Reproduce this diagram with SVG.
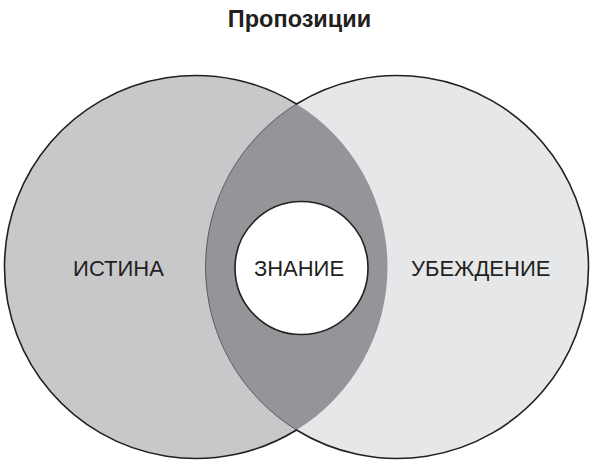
<svg xmlns="http://www.w3.org/2000/svg" width="594" height="465" viewBox="0 0 594 465">
<style>
.lbl{font-family:"Liberation Sans",Arial,sans-serif;font-size:22px;fill:#231f20;text-anchor:middle}
.ttl{font-family:"Liberation Sans",Arial,sans-serif;font-size:23.5px;font-weight:bold;fill:#231f20;text-anchor:middle}
.edge{fill:none;stroke:#231f20;stroke-width:1.6}
.thin{fill:none;stroke:#231f20;stroke-width:0.6}
</style>
<rect width="594" height="465" fill="#ffffff"/>
<text class="ttl" x="299.5" y="27">Пропозиции</text>
<g id="truth">
<circle cx="196" cy="267" r="191.5" fill="#c7c8ca"/>
</g>
<g id="belief">
<circle cx="397" cy="267" r="191.5" fill="#e6e7e8"/>
</g>
<g id="overlap">
<path d="M296.5,104 A191.5,191.5 0 0 1 296.5,430 A191.5,191.5 0 0 1 296.5,104 Z" fill="#939598"/>
</g>
<g id="connectors">
<path class="edge" d="M296.5,104 A191.5,191.5 0 1 0 296.5,430 A191.5,191.5 0 1 0 296.5,104 Z"/>
<path class="thin" d="M296.5,430 A191.5,191.5 0 0 1 296.5,104"/>
</g>
<g id="knowledge">
<circle cx="301.5" cy="268" r="66.5" fill="#ffffff" stroke="#231f20" stroke-width="1.6"/>
<text class="lbl" x="299" y="276">ЗНАНИЕ</text>
</g>
<g id="truth-label"><text class="lbl" x="118.5" y="276">ИСТИНА</text></g>
<g id="belief-label"><text class="lbl" x="480.7" y="276">УБЕЖДЕНИЕ</text></g>
</svg>
